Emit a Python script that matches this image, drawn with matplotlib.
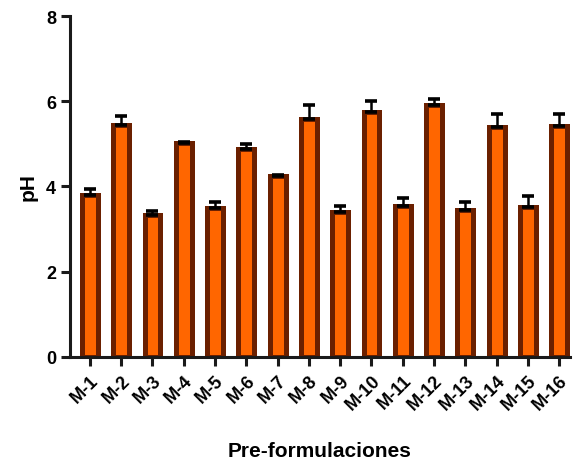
import matplotlib.pyplot as plt
import numpy as np

plt.rcParams['font.family'] = ['Liberation Sans', 'DejaVu Sans']
plt.rcParams['font.weight'] = 'bold'

# pH de cada pre-formulación (media y desviación estándar)
samples = ['M-1', 'M-2', 'M-3', 'M-4', 'M-5', 'M-6', 'M-7', 'M-8',
           'M-9', 'M-10', 'M-11', 'M-12', 'M-13', 'M-14', 'M-15', 'M-16']
ph_mean = [3.80, 5.45, 3.34, 5.01, 3.49, 4.89, 4.25, 5.58,
           3.39, 5.75, 3.53, 5.90, 3.45, 5.39, 3.51, 5.43]
ph_sd = [0.14, 0.20, 0.09, 0.03, 0.14, 0.10, 0.03, 0.32,
         0.16, 0.25, 0.21, 0.15, 0.18, 0.30, 0.27, 0.27]

x = np.arange(len(samples))

fig = plt.figure(figsize=(5.73, 4.6), dpi=100)
ax = fig.add_axes([0.122, 0.222, 0.873, 0.741])

ax.bar(x, ph_mean, width=0.51, color='#ff6600', edgecolor='#6b2000',
       linewidth=3.6, zorder=2)
ax.errorbar(x, ph_mean, yerr=[np.zeros(len(x)), ph_sd], fmt='none',
            ecolor='black', elinewidth=1.8, capsize=4, capthick=2.6, zorder=3)

ax.set_xlim(-0.64, 15.35)
ax.set_ylim(0, 8)
ax.set_yticks([0, 2, 4, 6, 8])
ax.set_xticks(x)
ax.set_xticklabels(samples, rotation=45, ha='right', rotation_mode='anchor')

for side in ['top', 'right']:
    ax.spines[side].set_visible(False)
for side in ['left', 'bottom']:
    ax.spines[side].set_linewidth(2.2)
    ax.spines[side].set_color('#1a1a1a')

ax.tick_params(axis='both', width=2.2, length=6.5, color='#1a1a1a',
               labelsize=13)
ax.tick_params(axis='x', pad=4)

ax.set_xlabel('Pre-formulaciones', fontsize=15, fontweight='bold', labelpad=20)
ax.set_ylabel('pH', fontsize=15, fontweight='bold', labelpad=6)

fig.savefig('out.png', dpi=100)
